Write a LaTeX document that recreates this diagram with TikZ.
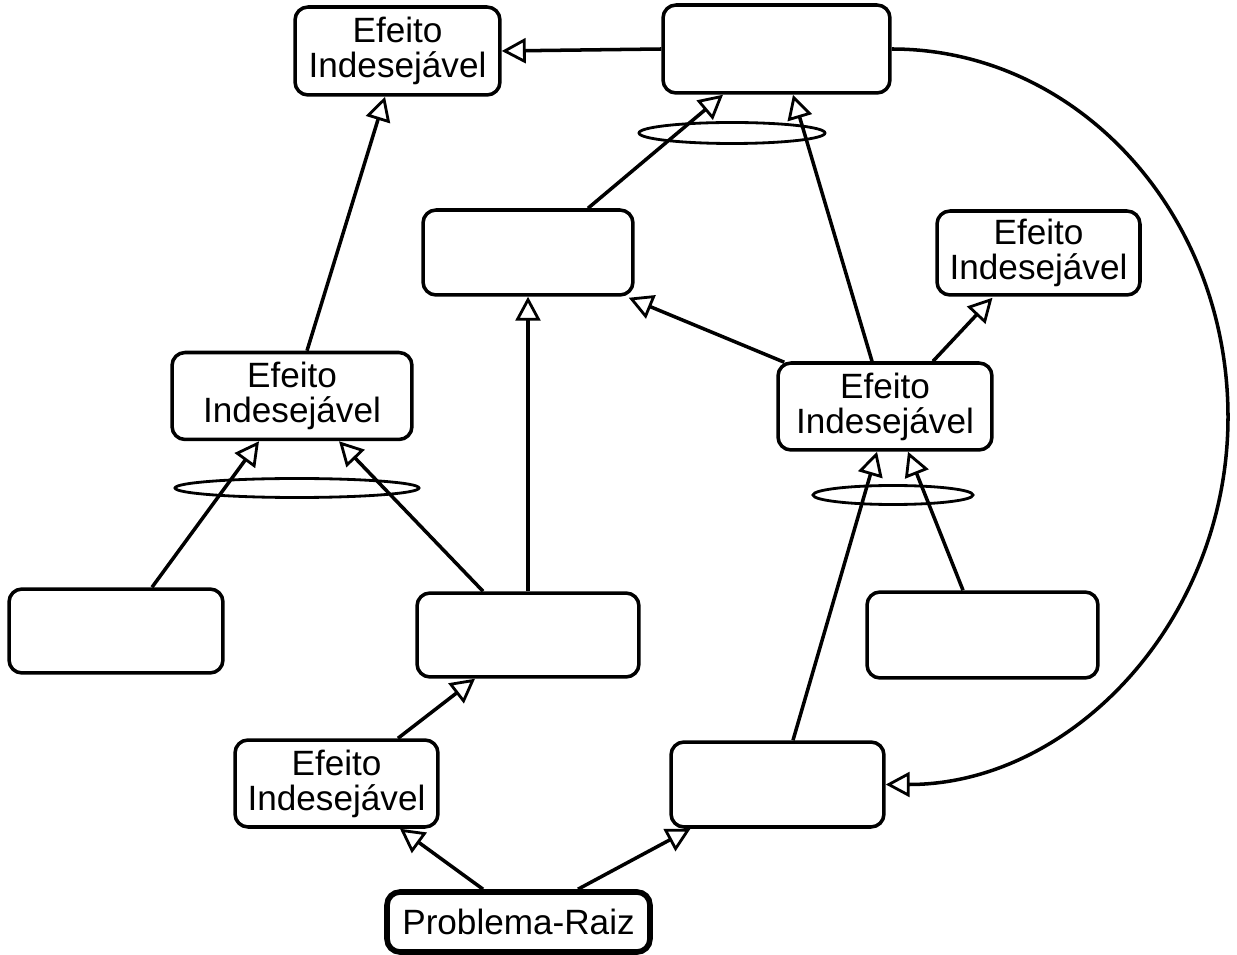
\documentclass[tikz,border=0pt]{standalone}
\usepackage{fontspec}
\setmainfont{Liberation Sans}
\usetikzlibrary{arrows.meta,calc}
\tikzset{
  box/.style={draw, line width=2pt, rounded corners=0.26cm, align=center,
    inner sep=0pt, font=\fontsize{20}{20}\selectfont},
  rootbox/.style={box, line width=3.2pt},
  link/.style={line width=2pt, -{Triangle[open, length=0.48cm, width=0.5cm, line width=1.6pt]}},
  ring/.style={line width=1.6pt}
}
\begin{document}
\begin{tikzpicture}[x=0.02cm, y=-0.02cm]
\useasboundingbox (0,0) rectangle (1237,955);
% nodes
\node[box, minimum width=4.1cm,  minimum height=1.76cm] (n1)  at (397.5,51)  {Efeito\\Indesejável};
\node[box, minimum width=4.54cm, minimum height=1.76cm] (n2)  at (776.5,49)  {};
\node[box, minimum width=4.2cm,  minimum height=1.7cm]  (n3)  at (528,252.5) {};
\node[box, minimum width=4.06cm, minimum height=1.68cm] (n4)  at (1038.5,253) {Efeito\\Indesejável};
\node[box, minimum width=4.8cm,  minimum height=1.74cm] (n5)  at (292,396)   {Efeito\\Indesejável};
\node[box, minimum width=4.28cm, minimum height=1.74cm] (n6)  at (885,406.5) {Efeito\\Indesejável};
\node[box, minimum width=4.28cm, minimum height=1.68cm] (n7)  at (116,631)   {};
\node[box, minimum width=4.44cm, minimum height=1.68cm] (n8)  at (528,635)   {};
\node[box, minimum width=4.62cm, minimum height=1.72cm] (n9)  at (982.5,635) {};
\node[box, minimum width=4.06cm, minimum height=1.74cm] (n10) at (336.5,783.5) {Efeito\\Indesejável};
\node[box, minimum width=4.26cm, minimum height=1.7cm]  (n11) at (777.5,784.5) {};
\node[rootbox, minimum width=5.26cm, minimum height=1.2cm] (n12) at (518.5,922) {Problema-Raiz};
% ellipses (logical AND)
\draw[ring] (732,133) ellipse [x radius=93, y radius=10.5];
\draw[ring] (297,488) ellipse [x radius=122, y radius=9.5];
\draw[ring] (893,495) ellipse [x radius=80, y radius=9.5];
% connectors
\draw[link] (n2.west) -- (n1.east);
\draw[link] ($(n3.north)+(60,0)$) -- ($(n2.south)+(-53.5,0)$);
\draw[link] ($(n6.north)+(-13,0)$) -- ($(n2.south)+(16.5,0)$);
\draw[link] ($(n6.north west)+(8,1)$) -- ($(n3.south east)+(-6,1)$);
\draw[link] ($(n6.north)+(48,0)$) -- ($(n4.south)+(-46,1)$);
\draw[link] ($(n5.north)+(15,0)$) -- ($(n1.south)+(-12.5,0)$);
\draw[link] ($(n7.north)+(36,0)$) -- ($(n5.south)+(-33,0)$);
\draw[link] ($(n8.north)+(-45,0)$) -- ($(n5.south)+(47,0)$);
\draw[link] (n8.north) -- (n3.south);
\draw[link] ($(n10.north)+(61.5,0)$) -- ($(n8.south)+(-53,0)$);
\draw[link] ($(n12.north)+(-35.5,0)$) -- ($(n10.south)+(63.5,0)$);
\draw[link] ($(n12.north)+(59.5,0)$) -- ($(n11.south)+(-87,0)$);
\draw[link] ($(n11.north)+(15.5,0)$) -- ($(n6.south)+(-8,0)$);
\draw[link] ($(n9.north)+(-19.5,0)$) -- ($(n6.south)+(23,0)$);
\coordinate (arcR) at (1228,417);
\draw[link] (n2.east) .. controls (1078,49) and (1228,214) .. (arcR)
  .. controls (1228,620) and (1072,784.5) .. (n11.east);
\end{tikzpicture}
\end{document}
